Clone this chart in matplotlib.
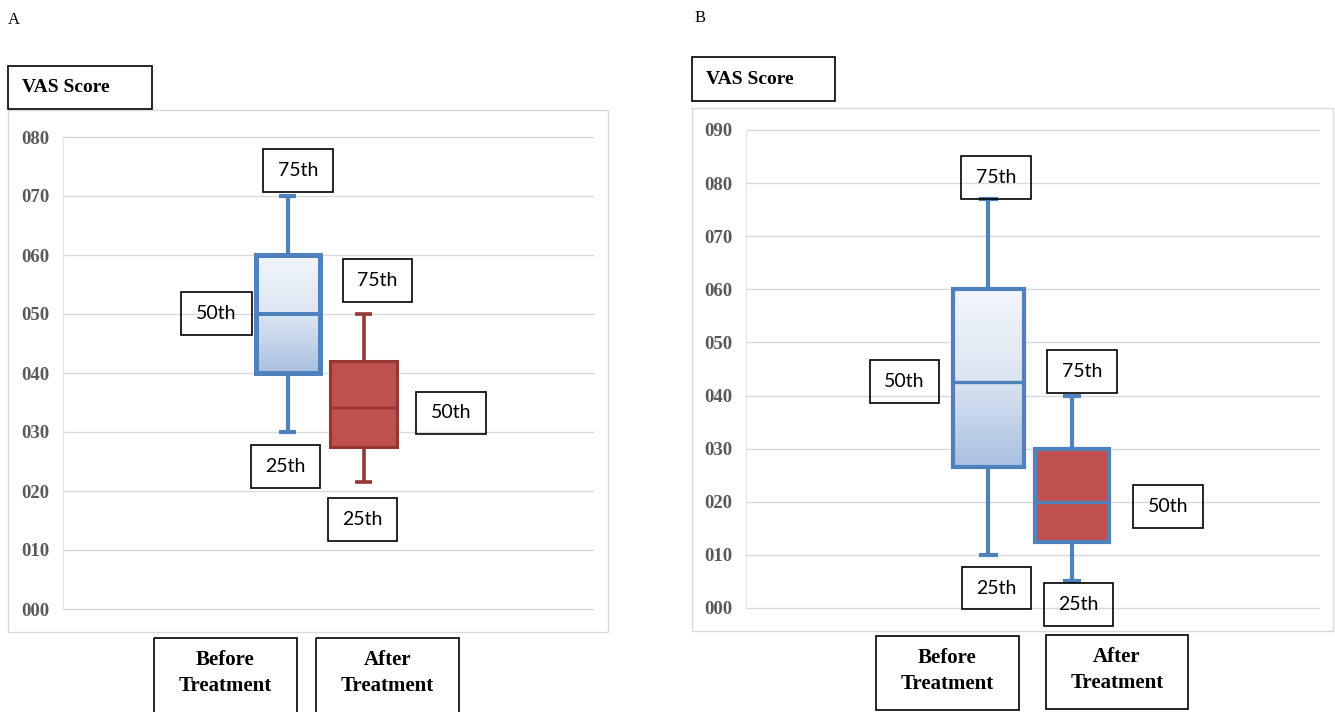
import matplotlib
matplotlib.use('Agg')
import matplotlib.pyplot as plt
import numpy as np
from matplotlib.patches import Rectangle
from matplotlib.transforms import Affine2D
from matplotlib.colors import LinearSegmentedColormap

# data (VAS score)
groups = ['Before\nTreatment', 'After\nTreatment']

a_low = [30, 21.5]
a_q1 = [40, 27.5]
a_med = [50, 34]
a_q3 = [60, 42]
a_high = [70, 50]

b_low = [10, 5]
b_q1 = [26.5, 12.5]
b_med = [42.5, 20]
b_q3 = [60, 30]
b_high = [77, 40]

W, H = 1335, 712
fig = plt.figure(figsize=(W / 100, H / 100), dpi=100)
# pixel coords, origin top-left
pix = Affine2D().scale(1.0 / W, -1.0 / H).translate(0, 1) + fig.transFigure

BLUE = '#4f81bd'
RED = '#c0504d'
DRED = '#943634'
SERIF = ['Liberation Serif', 'DejaVu Serif']
SANS = ['Lato', 'DejaVu Sans']

grad = LinearSegmentedColormap.from_list('g', ['#f3f6fb', '#dbe5f2', '#a9c0e0'])


def px_rect(x0, y0, x1, y1, ec='black', lw=1.2):
    fig.patches.append(Rectangle((x0, y0), x1 - x0, y1 - y0, transform=pix,
                                 fill=False, ec=ec, lw=lw, figure=fig))


def px_label(x0, y0, x1, y1, s, **kw):
    px_rect(x0, y0, x1, y1)
    fig.text((x0 + x1) / 2, (y0 + y1) / 2, s, transform=pix, ha='center',
             va='center', **kw)


def make_panel(rect, ylim, xlim, low, q1, med, q3, high, widths, styles):
    left, top, right, bottom = rect
    ax = fig.add_axes([left / W, 1 - bottom / H, (right - left) / W, (bottom - top) / H])
    stats = []
    for i in range(len(groups)):
        stats.append(dict(whislo=low[i], q1=q1[i], med=med[i], q3=q3[i],
                          whishi=high[i], fliers=[]))
    bp = ax.bxp(stats, positions=[1, 2], widths=widths, patch_artist=True,
                capwidths=0.22, manage_ticks=False)
    for i, st in enumerate(styles):
        box = bp['boxes'][i]
        box.set_edgecolor(st['edge'])
        box.set_linewidth(st['lw'])
        box.set_zorder(3)
        if st['fill'] == 'grad':
            box.set_facecolor('none')
            g = np.linspace(0, 1, 200).reshape(-1, 1)
            im = ax.imshow(g, cmap=grad, aspect='auto', zorder=2,
                           extent=[1 + i - widths[i] / 2, 1 + i + widths[i] / 2,
                                   q1[i], q3[i]], origin='upper')
            im.set_clip_path(box)
        else:
            box.set_facecolor(st['fill'])
        bp['medians'][i].set(color=st['edge'], lw=st['lw'] * 0.8, zorder=4)
        for ln in bp['whiskers'][2 * i:2 * i + 2] + bp['caps'][2 * i:2 * i + 2]:
            ln.set(color=st['wcol'], lw=st['wlw'], solid_capstyle='butt')
    ax.set_xlim(*xlim)
    ax.set_ylim(0, ylim)
    ticks = np.arange(0, ylim + 1, 10)
    ax.set_yticks(ticks)
    ax.set_yticklabels(['{:03d}'.format(int(t)) for t in ticks], family=SERIF,
                       fontweight='bold', fontsize=13.5, color='#595959')
    ax.tick_params(axis='y', length=0, pad=10)
    ax.set_xticks([])
    ax.grid(axis='y', color='#d9d9d9', lw=1)
    for gl in ax.get_ygridlines():
        gl.set_clip_on(False)
    ax.set_axisbelow(True)
    for s in ['top', 'right', 'bottom']:
        ax.spines[s].set_visible(False)
    ax.spines['left'].set_color('#e6e6e6')
    ax.patch.set_alpha(0)
    return ax


# panel A
px_rect(8, 110, 608, 632, ec='#d9d9d9', lw=1)
make_panel((63, 137, 593, 609), 80, (-1.954, 5.017), a_low, a_q1, a_med, a_q3, a_high,
           [0.84, 0.88],
           [dict(edge=BLUE, lw=3.6, fill='grad', wcol=BLUE, wlw=3.0),
            dict(edge=DRED, lw=2.2, fill=RED, wcol=DRED, wlw=2.6)])

# panel B
px_rect(692, 108, 1333, 631, ec='#d9d9d9', lw=1)
make_panel((746, 130, 1319, 608), 90, (-1.904, 4.958), b_low, b_q1, b_med, b_q3, b_high,
           [0.85, 0.89],
           [dict(edge=BLUE, lw=3.0, fill='grad', wcol=BLUE, wlw=3.0),
            dict(edge=BLUE, lw=3.0, fill=RED, wcol=BLUE, wlw=3.0)])

# panel letters
fig.text(8, 20, 'A', transform=pix, family=SERIF, fontsize=12, va='center')
fig.text(695, 18, 'B', transform=pix, family=SERIF, fontsize=12, va='center')

# y axis title boxes
for x0, y0, x1, y1 in [(8, 66, 152, 109), (692, 57, 835, 101)]:
    px_rect(x0, y0, x1, y1)
    fig.text(x0 + 14, (y0 + y1) / 2, 'VAS Score', transform=pix, family=SERIF,
             fontweight='bold', fontsize=14, va='center')

# category boxes under each panel
cat_boxes = [[(154, 638, 297, 716), (316, 638, 459, 716)],
             [(876, 636, 1019, 710), (1046, 635, 1188, 709)]]
for boxes in cat_boxes:
    for (x0, y0, x1, y1), g in zip(boxes, groups):
        px_rect(x0, y0, x1, y1)
        fig.text((x0 + x1) / 2, y0 + 35, g, transform=pix, family=SERIF,
                 fontweight='bold', fontsize=15, ha='center', va='center',
                 linespacing=1.45)

# percentile callouts
callouts = [(263, 149, 333, 192, '75th'), (181, 292, 252, 335, '50th'),
            (251, 445, 320, 488, '25th'), (343, 259, 412, 302, '75th'),
            (416, 392, 486, 434, '50th'), (328, 498, 397, 541, '25th'),
            (961, 156, 1031, 199, '75th'), (870, 360, 939, 403, '50th'),
            (962, 567, 1031, 609, '25th'), (1047, 350, 1117, 393, '75th'),
            (1133, 485, 1203, 528, '50th'), (1044, 583, 1113, 626, '25th')]
for x0, y0, x1, y1, s in callouts:
    px_label(x0, y0, x1, y1, s, family=SANS, fontsize=14)

fig.savefig('out.png', dpi=100, facecolor='white')
